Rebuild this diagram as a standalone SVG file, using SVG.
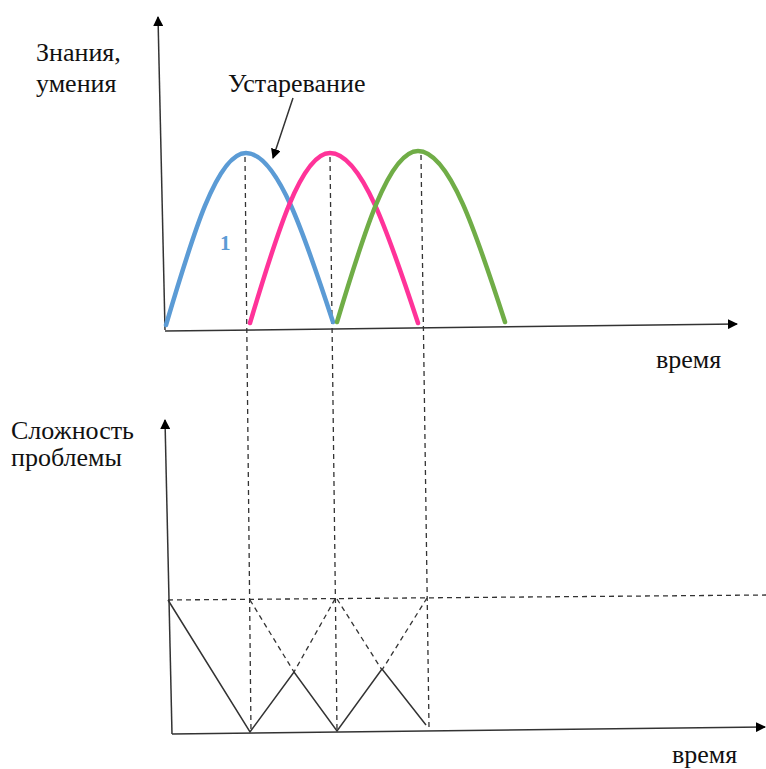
<svg xmlns="http://www.w3.org/2000/svg" width="766" height="769" viewBox="0 0 766 769">
<defs>
<style>
.lbl{font-family:"Liberation Serif","Times New Roman",serif;font-size:26px;fill:#111}
.axis{stroke:#333;stroke-width:1.5;fill:none}
.dash{stroke:#333;stroke-width:1.3;stroke-dasharray:5 4;fill:none}
.zig{stroke:#333;stroke-width:1.5;fill:none}
.curve{stroke-width:4.5;fill:none;stroke-linecap:round}
</style>
<marker id="ah" viewBox="0 0 10 10" refX="9" refY="5" markerWidth="10" markerHeight="10" markerUnits="userSpaceOnUse" orient="auto">
<path d="M0,0 L10,5 L0,10 z" fill="#000"/>
</marker>
</defs>
<rect width="766" height="769" fill="#fff"/>
<g id="connectors">
<line class="axis" x1="165" y1="330" x2="158" y2="17" marker-end="url(#ah)"/>
<line class="axis" x1="165" y1="331" x2="737" y2="324" marker-end="url(#ah)"/>
<line class="axis" x1="172" y1="734" x2="165" y2="420" marker-end="url(#ah)"/>
<line class="axis" x1="172" y1="734" x2="765" y2="727" marker-end="url(#ah)"/>
<line class="axis" x1="293" y1="98" x2="273" y2="158" marker-end="url(#ah)"/>
<line class="dash" x1="245" y1="157" x2="251" y2="732"/>
<line class="dash" x1="330" y1="157" x2="337" y2="730"/>
<line class="dash" x1="421" y1="155" x2="429" y2="727"/>
<line class="dash" x1="168" y1="600" x2="766" y2="595"/>
<line class="dash" x1="250" y1="600" x2="294" y2="672"/>
<line class="dash" x1="335" y1="599" x2="294" y2="672"/>
<line class="dash" x1="337" y1="599" x2="382" y2="670"/>
<line class="dash" x1="427" y1="598" x2="382" y2="670"/>
<polyline class="zig" points="168,600 250,732 294,672 337,731 382,669 426,725"/>
</g>
<g id="curve-blue">
<path class="curve" stroke="#5B9BD5" d="M166,325 C192.1,236.9 217,153 246,153 C277.5,153 304.6,235.4 333,322"/>
</g>
<g id="curve-pink">
<path class="curve" stroke="#FF3399" d="M250,323 C276.1,235.9 301,153 330,153 C361.8,153 389.3,235.9 418,323"/>
</g>
<g id="curve-green">
<path class="curve" stroke="#70AD47" d="M337,322 C363.4,234.4 388.7,151 418,151 C449.5,151 476.6,234.4 505,322"/>
</g>
<g id="labels">
<text class="lbl" x="36" y="61">Знания,</text>
<text class="lbl" x="36" y="92">умения</text>
<text class="lbl" x="228" y="92">Устаревание</text>
<text class="lbl" x="656" y="368">время</text>
<text class="lbl" x="11" y="439">Сложность</text>
<text class="lbl" x="11" y="466">проблемы</text>
<text class="lbl" x="672" y="763">время</text>
<text x="220" y="250" style="font-family:'Liberation Serif',serif;font-size:21px;font-weight:bold;fill:#5B9BD5">1</text>
</g>
</svg>
